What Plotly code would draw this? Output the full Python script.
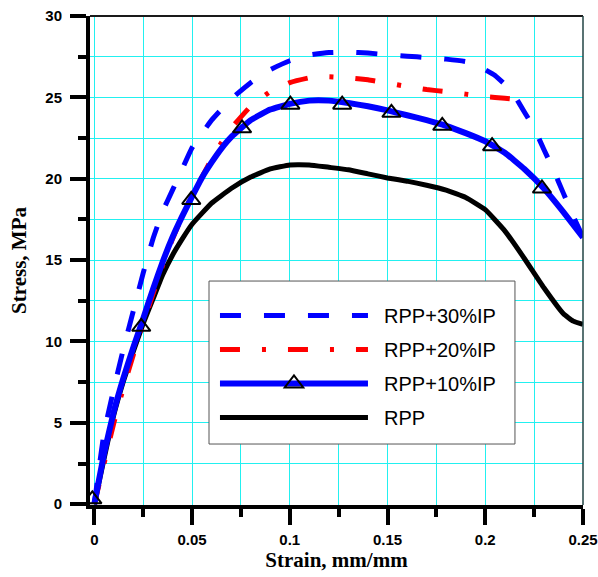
import plotly.graph_objects as go

# values (strain in mm/mm, stress in MPa)
rpp_strain = [0, 0.005, 0.01, 0.015, 0.02, 0.025, 0.03, 0.035, 0.04, 0.045, 0.05, 0.06,
              0.07, 0.08, 0.09, 0.1, 0.11, 0.12, 0.13, 0.14, 0.15, 0.16, 0.17, 0.18, 0.19,
              0.2, 0.21, 0.22, 0.23, 0.24, 0.245, 0.25]
rpp_stress = [0, 2.8, 5.5, 7.6, 9.4, 11.1, 12.6, 14.1, 15.3, 16.3, 17.2, 18.5,
              19.4, 20.1, 20.6, 20.85, 20.85, 20.7, 20.55, 20.3, 20.05, 19.85, 19.6, 19.3, 18.85,
              18.1, 16.8, 15.1, 13.3, 11.7, 11.25, 11.05]

ip10_strain = [0, 0.005, 0.01, 0.015, 0.02, 0.025, 0.03, 0.035, 0.04, 0.045, 0.05, 0.055,
               0.06, 0.065, 0.07, 0.08, 0.09, 0.1, 0.11, 0.12, 0.13, 0.14, 0.15, 0.16, 0.17,
               0.18, 0.19, 0.2, 0.21, 0.22, 0.23, 0.24, 0.25]
ip10_stress = [0, 3.1, 5.7, 7.8, 9.65, 11.4, 13.2, 14.9, 16.4, 17.7, 18.9, 20.05,
               21.0, 21.85, 22.55, 23.6, 24.25, 24.6, 24.8, 24.8, 24.65, 24.45, 24.2, 23.9, 23.6,
               23.25, 22.8, 22.3, 21.6, 20.6, 19.4, 17.95, 16.4]
ip10_mark_strain = [-0.001, 0.024, 0.0496, 0.0756, 0.1003, 0.1268, 0.152, 0.178, 0.2035, 0.229]
ip10_mark_stress = [0.3, 10.9, 18.7, 23.1, 24.55, 24.55, 24.05, 23.25, 22.0, 19.4]

ip20_strain = [0, 0.005, 0.01, 0.015, 0.02, 0.025, 0.03, 0.035, 0.04, 0.045, 0.05, 0.055,
               0.06, 0.065, 0.07, 0.08, 0.09, 0.1, 0.11, 0.12, 0.13, 0.14, 0.15, 0.16, 0.17,
               0.18, 0.19, 0.2, 0.21, 0.2225]
ip20_stress = [0, 2.5, 5.0, 7.2, 9.2, 11.1, 12.9, 14.7, 16.3, 17.7, 19.0, 20.1,
               21.2, 22.2, 23.1, 24.45, 25.35, 25.9, 26.2, 26.27, 26.2, 26.08, 25.88, 25.67, 25.48,
               25.35, 25.2, 25.04, 24.95, 24.8]

ip30_strain = [0, 0.005, 0.01, 0.015, 0.02, 0.025, 0.03, 0.035, 0.04, 0.045, 0.05, 0.06,
               0.07, 0.08, 0.09, 0.1, 0.11, 0.12, 0.13, 0.14, 0.15, 0.16, 0.17, 0.18, 0.19,
               0.195, 0.2, 0.205, 0.21, 0.215, 0.22, 0.225, 0.23, 0.235, 0.24, 0.245, 0.25]
ip30_stress = [0, 4.4, 7.1, 9.6, 11.9, 14.2, 16.3, 18.0, 19.3, 20.6, 21.9, 23.6,
               24.9, 25.9, 26.7, 27.25, 27.6, 27.75, 27.78, 27.72, 27.62, 27.53, 27.45, 27.35, 27.2,
               27.0, 26.7, 26.35, 25.8, 25.1, 24.1, 23.1, 21.8, 20.5, 19.1, 17.7, 16.4]

GRID = "#22F0F0"
BLUE = "#0000FF"
SPLINE = dict(shape="spline", smoothing=0.35)
TICK_FONT = dict(family="Arial, Liberation Sans", size=15, color="black", weight="bold")
TITLE_FONT = dict(family="Times New Roman, Liberation Serif", size=21, color="black")
NB = "\u00a0"

fig = go.Figure()

fig.add_trace(go.Scatter(
    x=rpp_strain, y=rpp_stress, mode="lines", showlegend=False,
    line=dict(color="black", width=5, **SPLINE),
))
fig.add_trace(go.Scatter(
    x=ip20_strain, y=ip20_stress, mode="lines", showlegend=False,
    line=dict(color="#FF0000", width=5, dash="20px,22px,4px,22px", **SPLINE),
))
fig.add_trace(go.Scatter(
    x=ip10_strain, y=ip10_stress, mode="lines", showlegend=False,
    line=dict(color=BLUE, width=6, **SPLINE),
))
fig.add_trace(go.Scatter(
    x=ip30_strain, y=ip30_stress, mode="lines", showlegend=False,
    line=dict(color=BLUE, width=5, dash="21px,23px", **SPLINE),
))
fig.add_trace(go.Scatter(
    x=ip10_mark_strain, y=ip10_mark_stress, mode="markers", showlegend=False,
    marker=dict(symbol="triangle-up-open", size=16, color="black", line=dict(color="black", width=2)),
))

# legend-only entries (dummy traces), in the reference's order
legend_items = [
    ("RPP+30%IP", dict(color=BLUE, width=5, dash="21px,23px"), None),
    ("RPP+20%IP", dict(color="#FF0000", width=5, dash="20px,22px,4px,22px"), None),
    ("RPP+10%IP", dict(color=BLUE, width=6),
     dict(symbol="triangle-up-open", size=16, color="black", line=dict(color="black", width=2))),
    ("RPP", dict(color="black", width=5), None),
]
for i, (name, line, marker) in enumerate(legend_items):
    fig.add_trace(go.Scatter(
        x=[None], y=[None], name=NB * 2 + name,
        mode="lines+markers" if marker else "lines",
        line=line, marker=marker, legendgroup=str(i), showlegend=True,
    ))

axis_common = dict(
    showline=True, linecolor="black", linewidth=4,
    ticks="outside", ticklen=16, tickwidth=4, tickcolor="black",
    showgrid=True, gridcolor=GRID, gridwidth=1, zeroline=False,
    tickfont=TICK_FONT, automargin=False,
)

fig.update_xaxes(
    range=[-0.0022, 0.25], tick0=0, dtick=0.05, tickformat="~g", ticklabelstandoff=2,
    minor=dict(dtick=0.025, tick0=0, ticks="outside", ticklen=8, tickwidth=4,
               tickcolor="black", showgrid=True, gridcolor=GRID, gridwidth=1),
    title=dict(text="<b>Strain, mm/mm</b>", font=TITLE_FONT, standoff=6),
    **axis_common,
)
fig.update_yaxes(
    range=[-0.05, 30], tick0=0, dtick=5, ticklabelstandoff=5,
    minor=dict(dtick=2.5, tick0=0, ticks="outside", ticklen=8, tickwidth=4,
               tickcolor="black", showgrid=True, gridcolor=GRID, gridwidth=1),
    title=dict(text="<b>Stress, MPa</b>", font=TITLE_FONT, standoff=14),
    **axis_common,
)

# thin frame on top and right
fig.add_shape(type="line", xref="x domain", yref="y domain", x0=0, x1=1, y0=1, y1=1,
              line=dict(color="#1A1A1A", width=2))
fig.add_shape(type="line", xref="x domain", yref="y domain", x0=1, x1=1, y0=0, y1=1,
              line=dict(color="#224444", width=1.5))
# legend box
fig.add_shape(type="rect", xref="paper", yref="paper", x0=0.2414, x1=0.862, y0=0.1247, y1=0.458,
              fillcolor="white", line=dict(color="#555555", width=1), layer="above")

fig.update_layout(
    width=598, height=577,
    margin=dict(l=90, r=15, t=16, b=72),
    plot_bgcolor="white", paper_bgcolor="white",
    showlegend=True,
    legend=dict(
        x=0.2535, y=0.4274, xanchor="left", yanchor="top",
        bgcolor="rgba(0,0,0,0)", borderwidth=0,
        font=dict(family="Arial, Liberation Sans", size=20, color="black"),
        itemwidth=148, traceorder="grouped", tracegroupgap=5,
        itemsizing="trace",
    ),
)

fig.write_html("out.html", config={"displayModeBar": False},
               post_script="document.body.style.margin='0';")
